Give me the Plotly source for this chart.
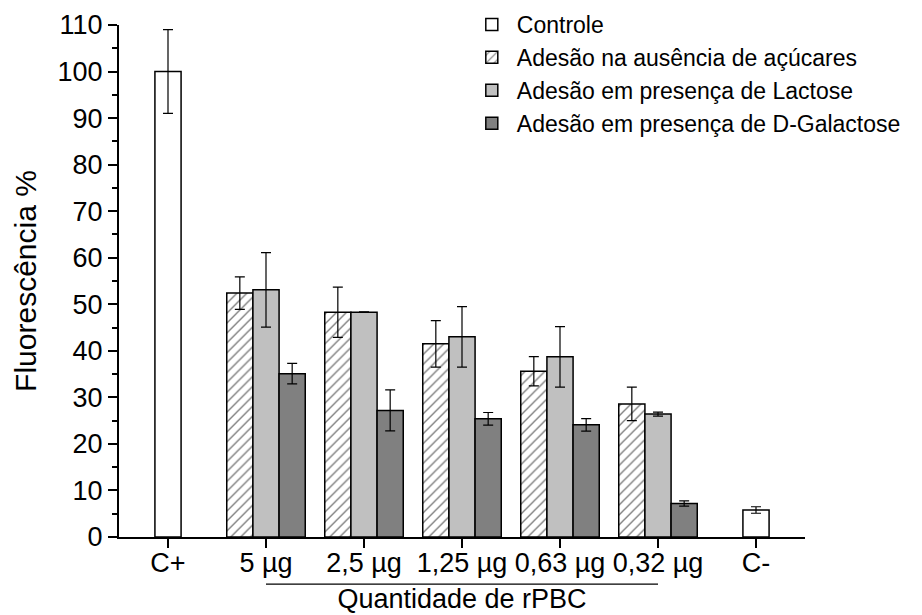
import plotly.graph_objects as go

categories = ["C+", "5 µg", "2,5 µg", "1,25 µg", "0,63 µg", "0,32 µg", "C-"]
doses = ["5 µg", "2,5 µg", "1,25 µg", "0,63 µg", "0,32 µg"]
controls = ["C+", "C-"]

controle_vals = [100.0, 5.8]
controle_err = [9.0, 0.7]

ausencia_vals = [52.4, 48.3, 41.5, 35.6, 28.6]
ausencia_err = [3.5, 5.4, 5.0, 3.15, 3.6]

lactose_vals = [53.1, 48.3, 43.0, 38.7, 26.4]
lactose_err = [8.0, 0.05, 6.5, 6.5, 0.45]

galactose_vals = [35.1, 27.2, 25.4, 24.1, 7.2]
galactose_err = [2.2, 4.4, 1.35, 1.35, 0.55]

names = ["Controle", "Adesão na ausência de açúcares",
         "Adesão em presença de Lactose", "Adesão em presença de D-Galactose"]

FONT = "Arial, Liberation Sans, sans-serif"
BW = 0.267
line = dict(color="black", width=1.5)

def err(a):
    return dict(type="data", array=a, visible=True, color="black", thickness=1.2, width=5)

fig = go.Figure()
fig.add_trace(go.Bar(x=controls, y=controle_vals, name=names[0], error_y=err(controle_err),
                     marker=dict(color="white", line=line), width=BW, offset=-BW / 2))
fig.add_trace(go.Bar(x=doses, y=ausencia_vals, name=names[1], error_y=err(ausencia_err),
                     marker=dict(color="white", line=line,
                                 pattern=dict(shape="/", fgcolor="black", bgcolor="white",
                                              size=7, solidity=0.2)),
                     width=BW, offset=-1.5 * BW))
fig.add_trace(go.Bar(x=doses, y=lactose_vals, name=names[2], error_y=err(lactose_err),
                     marker=dict(color="#C0C0C0", line=line), width=BW, offset=-BW / 2))
fig.add_trace(go.Bar(x=doses, y=galactose_vals, name=names[3], error_y=err(galactose_err),
                     marker=dict(color="#808080", line=line), width=BW, offset=BW / 2))

fig.update_layout(
    width=922, height=615, barmode="overlay",
    margin=dict(l=119, r=117, t=25, b=78, autoexpand=False),
    plot_bgcolor="white", paper_bgcolor="white",
    font=dict(family=FONT, size=27, color="black"),
    legend=dict(x=0.507, y=1.043, xanchor="left", yanchor="top",
                font=dict(size=23), bgcolor="rgba(0,0,0,0)",
                itemwidth=40, traceorder="normal"),
)
fig.update_xaxes(
    type="category", categoryorder="array", categoryarray=categories,
    range=[-0.5, 6.5], showline=True, linecolor="black", linewidth=2,
    ticks="outside", ticklen=9, tickwidth=1.5, tickcolor="black",
    showgrid=False, zeroline=False,
    tickfont=dict(size=27), ticklabelstandoff=-8,
    title=dict(text="Quantidade de rPBC", font=dict(size=27), standoff=12),
)
fig.update_yaxes(
    range=[0, 110], tick0=0, dtick=10, showline=True, linecolor="black", linewidth=2,
    ticks="outside", ticklen=9, tickwidth=1.5, tickcolor="black",
    minor=dict(dtick=5, ticks="outside", ticklen=5, tickwidth=1.5, tickcolor="black", showgrid=False),
    showgrid=False, zeroline=False,
    tickfont=dict(size=27),
    title=dict(text="Fluorescência %", font=dict(size=30), standoff=12),
)
fig.add_shape(type="line", xref="x", yref="paper",
              x0=doses[0], x1=doses[-1], y0=-0.092, y1=-0.092,
              line=dict(color="black", width=1.2))
fig.write_html("out.html")
